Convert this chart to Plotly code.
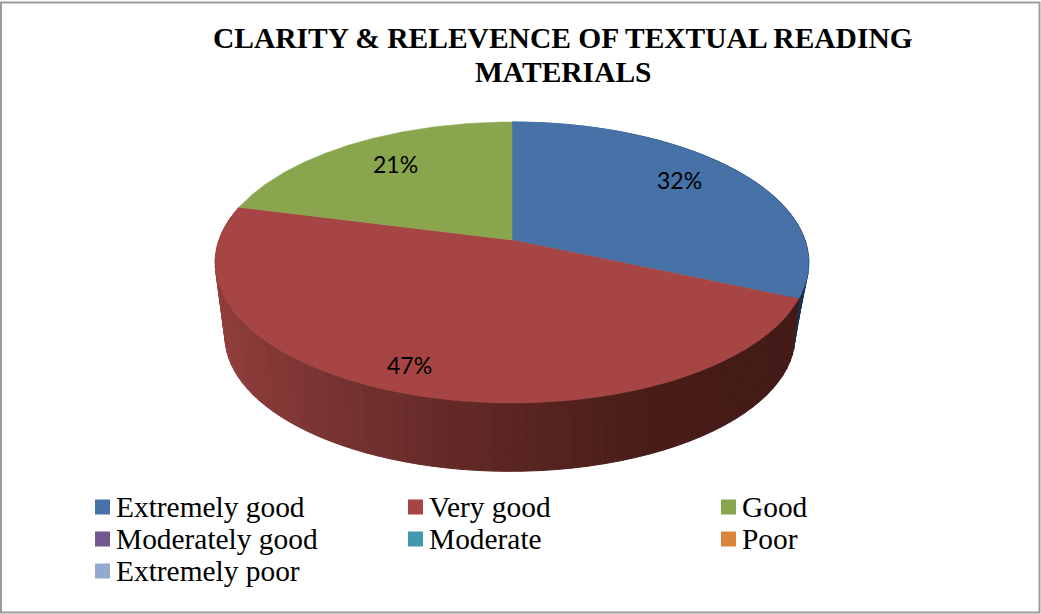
import math
import numpy as np
import plotly.graph_objects as go

categories = ["Extremely good", "Very good", "Good", "Moderately good", "Moderate", "Poor", "Extremely poor"]
values = [32, 47, 21, 0, 0, 0, 0]
colors = ["#4672A8", "#A64543", "#89A54E", "#71588F", "#4198AF", "#DB843D", "#93A9CF"]
title_lines = ["CLARITY &amp; RELEVENCE OF TEXTUAL READING", "MATERIALS"]

W, H = 1041, 614
# projection of the tilted pie onto the page (page pixels)
APEX_X, APEX_Y = 512, 240
A, B, K = 293.0, 136.9, 0.16
ELL_CY = 262.0
SIDE_SCALE, SIDE_CX, SIDE_CY = 0.96, 510.0, 336.0
TOP_SKEW, LOW_SKEW = 0.03, 0.155


def project(theta, skew=TOP_SKEW):
    t = theta - skew * np.clip(np.sin(theta), 0, None)
    x, y = np.sin(t), np.cos(t)
    d = 1 + K * y
    return APEX_X + A * x / d, APEX_Y - B * y / d


def project_low(theta):
    px, py = project(theta, LOW_SKEW)
    return SIDE_CX + SIDE_SCALE * (px - APEX_X), SIDE_CY + SIDE_SCALE * (py - ELL_CY)


def lerp_hex(stops, t):
    for (t0, c0), (t1, c1) in zip(stops, stops[1:]):
        if t <= t1:
            f = (t - t0) / (t1 - t0)
            return "rgb(%d,%d,%d)" % tuple(round(a + (b - a) * f) for a, b in zip(c0, c1))
    return "rgb(%d,%d,%d)" % stops[-1][1]


RED_SIDE = [(215, (145, 62, 60)), (340, (118, 50, 48)), (500, (92, 38, 36)), (650, (72, 28, 25)), (810, (66, 26, 22))]
BLUE_SIDE = [(780, (28, 52, 82)), (810, (24, 44, 72))]

fig = go.Figure()
total = sum(values)
cum = np.cumsum([0] + values) / total * 2 * math.pi

# side wall, one narrow strip at a time
STEP = math.radians(2.5)
for i, v in enumerate(values):
    if v == 0 or i == 2:
        continue
    t0, t1 = cum[i], cum[i + 1]
    n = max(1, int((t1 - t0) / STEP))
    edges = np.linspace(t0, t1, n + 1)
    for a, b in zip(edges, edges[1:]):
        ax, ay = project(a)
        bx, by = project(b)
        cx, cy = project_low(b)
        dx, dy = project_low(a)
        mid = (ax + bx + cx + dx) / 4
        col = lerp_hex(BLUE_SIDE if i == 0 else RED_SIDE, mid)
        fig.add_trace(go.Scatter(x=[ax, bx, cx, dx, ax], y=[ay, by, cy, dy, ay], mode="lines", fill="toself",
                                 fillcolor=col, line=dict(color=col, width=1), hoverinfo="skip", showlegend=False))

# top face
for i, v in enumerate(values):
    if v == 0:
        continue
    th = np.linspace(cum[i], cum[i + 1], 160)
    px, py = project(th)
    fig.add_trace(go.Scatter(x=[APEX_X, *px, APEX_X], y=[APEX_Y, *py, APEX_Y], mode="lines", fill="toself",
                             fillcolor=colors[i], line=dict(color=colors[i], width=0.5), name=categories[i],
                             showlegend=False))

annotations = []
label_x = [679, 409, 395]
label_y = [180, 365, 164]
for v, lx, ly in zip(values, label_x, label_y):
    annotations.append(dict(x=lx, y=ly, text=f"{v}%", showarrow=False, font=dict(family="Lato", size=23, color="#000")))

for line, ty in zip(title_lines, [38, 72]):
    annotations.append(dict(x=563, y=ty, text=f"<b>{line}</b>", showarrow=False,
                            font=dict(family="Liberation Serif", size=29.5, color="#000"), xanchor="center"))

# key
LEG_X = [102.5, 415.5, 728.5]
LEG_Y = [507, 539, 571]
for i, c in enumerate(categories):
    x0, y0 = LEG_X[i % 3], LEG_Y[i // 3]
    fig.add_trace(go.Scatter(x=[x0], y=[y0], mode="markers", name=c, showlegend=False, hoverinfo="name",
                             marker=dict(symbol="square", size=15, color=colors[i], line=dict(width=0))))
    annotations.append(dict(x=x0 + 11.5, y=y0, text=c, showarrow=False, xanchor="left", yanchor="middle",
                            font=dict(family="Liberation Serif", size=29.4, color="#000")))

fig.update_layout(
    width=W, height=H, autosize=False, margin=dict(l=0, r=0, t=0, b=0),
    paper_bgcolor="white", plot_bgcolor="white", annotations=annotations,
    xaxis=dict(range=[0, W], visible=False, fixedrange=True),
    yaxis=dict(range=[H, 0], visible=False, fixedrange=True),
    shapes=[dict(type="rect", x0=1, y0=2.5, x1=1039.5, y1=612.5, line=dict(color="#9c9c9c", width=2), layer="above")],
)
fig.write_html("out.html", config=dict(displayModeBar=False), default_width=W, default_height=H,
               post_script="document.body.style.margin='0';document.documentElement.style.overflow='hidden';")
